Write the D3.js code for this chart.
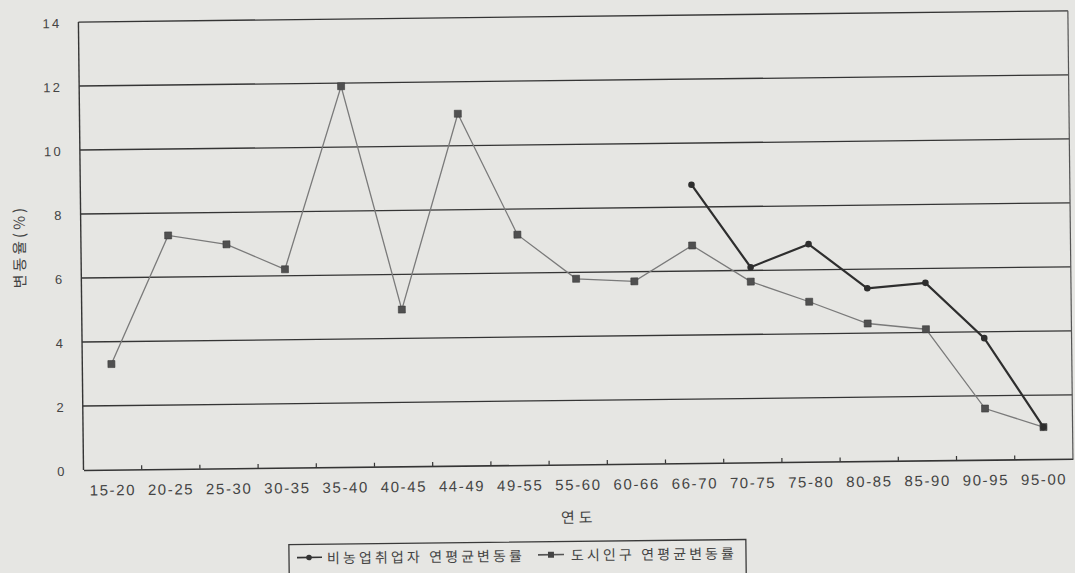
<!DOCTYPE html>
<html><head><meta charset="utf-8">
<script src="https://cdn.jsdelivr.net/npm/d3@7"></script>
<style>
html,body{margin:0;padding:0;background:#e6e6e3;}
svg{display:block;}
</style></head>
<body>
<svg id="chart" width="1075" height="573"></svg>
<script>
const categories = ["15-20","20-25","25-30","30-35","35-40","40-45","44-49","49-55","55-60","60-66","66-70","70-75","75-80","80-85","85-90","90-95","95-00"];
// 비농업취업자 연평균변동률 (only from 66-70 onward)
const nonFarmValues = [null,null,null,null,null,null,null,null,null,null,8.7,6.1,6.8,5.4,5.55,3.8,1.0];
// 도시인구 연평균변동률
const urbanValues = [3.3,7.3,7.0,6.2,11.9,4.9,11.0,7.2,5.8,5.7,6.8,5.65,5.0,4.3,4.1,1.6,1.0];
const yTicks = [0,2,4,6,8,10,12,14];
const seriesNames = ["비농업취업자 연평균변동률","도시인구 연평균변동률"];
const xTitle = "연도";
const yTitle = "변동율(%)";

const svg = d3.select("#chart");
svg.append("rect").attr("width",1075).attr("height",573).attr("fill","#e6e6e3");

const L = 83.5, R = 1073, T = 22, B = 470;
const g = svg.append("g").attr("transform", `rotate(-0.65, ${L}, ${B})`);

const x = d3.scaleBand().domain(categories).range([L, R]).padding(0);
const y = d3.scaleLinear().domain([0,14]).range([B, T]);

const ink = "#353535";
const fontNum = "'Liberation Sans', Arial, sans-serif";
const fontKr = "'Noto Sans CJK KR', sans-serif";

// gridlines
g.append("g").selectAll("line").data(yTicks.filter(d=>d>0)).join("line")
  .attr("x1", L).attr("x2", R).attr("y1", d=>y(d)).attr("y2", d=>y(d))
  .attr("stroke", ink).attr("stroke-width", 1.3);

// frame
g.append("line").attr("x1",L).attr("x2",L).attr("y1",T).attr("y2",B).attr("stroke",ink).attr("stroke-width",1.4);
g.append("line").attr("x1",R).attr("x2",R).attr("y1",T).attr("y2",B).attr("stroke","#555").attr("stroke-width",1.2);

// y axis
const yAxis = d3.axisLeft(y).tickValues(yTicks).tickSize(0).tickPadding(17);
const yg = g.append("g").attr("transform", `translate(${L},0)`).call(yAxis);
yg.select(".domain").remove();
yg.selectAll("text").attr("font-family", fontNum).attr("font-size", 13).attr("fill", "#444")
  .attr("letter-spacing", 2.2).attr("dy","0.4em");

// x axis
const xAxis = d3.axisBottom(x).tickSize(0).tickPadding(15);
const xg = g.append("g").attr("transform", `translate(0,${B})`).call(xAxis);
xg.select(".domain").attr("stroke", ink).attr("stroke-width", 1.6);
xg.selectAll("text").attr("font-family", fontNum).attr("font-size", 15).attr("fill", "#444")
  .attr("letter-spacing", 1.6);
// inner tick marks at band boundaries
g.append("g").selectAll("line").data(categories.slice(1)).join("line")
  .attr("x1", d=>x(d)).attr("x2", d=>x(d)).attr("y1", B).attr("y2", B-4)
  .attr("stroke", ink).attr("stroke-width", 1.2);

// axis titles
g.append("text").attr("x", (L+R)/2 + 0).attr("y", 522).attr("text-anchor","middle")
  .attr("dominant-baseline","central").attr("font-family", fontKr).attr("font-size", 15)
  .attr("letter-spacing", 4).attr("fill","#444").text(xTitle);
g.append("text").attr("transform", "translate(21,246) rotate(-90)").attr("text-anchor","middle")
  .attr("dominant-baseline","central").attr("font-family", fontKr).attr("font-size", 15)
  .attr("letter-spacing", 3).attr("fill","#444").text(yTitle);

const cx = d => x(d) + x.bandwidth()/2;

// urban series
const urbanData = categories.map((c,i)=>({c, v: urbanValues[i]}));
const line = d3.line().defined(d=>d.v!=null).x(d=>cx(d.c)).y(d=>y(d.v));
g.append("path").datum(urbanData).attr("d", line).attr("fill","none")
  .attr("stroke","#7a7a7a").attr("stroke-width",1.3);
g.append("g").selectAll("rect").data(urbanData).join("rect")
  .attr("x", d=>cx(d.c)-3.5).attr("y", d=>y(d.v)-3.5).attr("width",7).attr("height",7)
  .attr("fill","#505050").attr("stroke","#3a3a3a").attr("stroke-width",0.6);

// non-farm series
const nfData = categories.map((c,i)=>({c, v: nonFarmValues[i]})).filter(d=>d.v!=null);
g.append("path").datum(nfData).attr("d", line).attr("fill","none")
  .attr("stroke","#2e2e2e").attr("stroke-width",2.2);
g.append("g").selectAll("circle").data(nfData).join("circle")
  .attr("cx", d=>cx(d.c)).attr("cy", d=>y(d.v)).attr("r",3.3).attr("fill","#2e2e2e");

// legend
const lg = g.append("g");
lg.append("rect").attr("x", 288).attr("y", 547).attr("width", 457).attr("height", 40)
  .attr("fill","none").attr("stroke","#3a3a3a").attr("stroke-width",1.3);
const ly = 560;
// item 1
lg.append("line").attr("x1",296).attr("x2",321).attr("y1",ly).attr("y2",ly).attr("stroke","#333").attr("stroke-width",1.6);
lg.append("circle").attr("cx",308).attr("cy",ly).attr("r",2.8).attr("fill","#333");
lg.append("text").attr("x",326).attr("y",ly).attr("dominant-baseline","central")
  .attr("font-family",fontKr).attr("font-size",14).attr("letter-spacing",3.1).attr("fill","#444").text(seriesNames[0]);
// item 2
lg.append("line").attr("x1",537).attr("x2",563).attr("y1",ly).attr("y2",ly).attr("stroke","#555").attr("stroke-width",1.6);
lg.append("rect").attr("x",547).attr("y",ly-3).attr("width",6).attr("height",6).attr("fill","#444");
lg.append("text").attr("x",570).attr("y",ly).attr("dominant-baseline","central")
  .attr("font-family",fontKr).attr("font-size",14).attr("letter-spacing",3.1).attr("fill","#444").text(seriesNames[1]);
</script>
</body></html>
